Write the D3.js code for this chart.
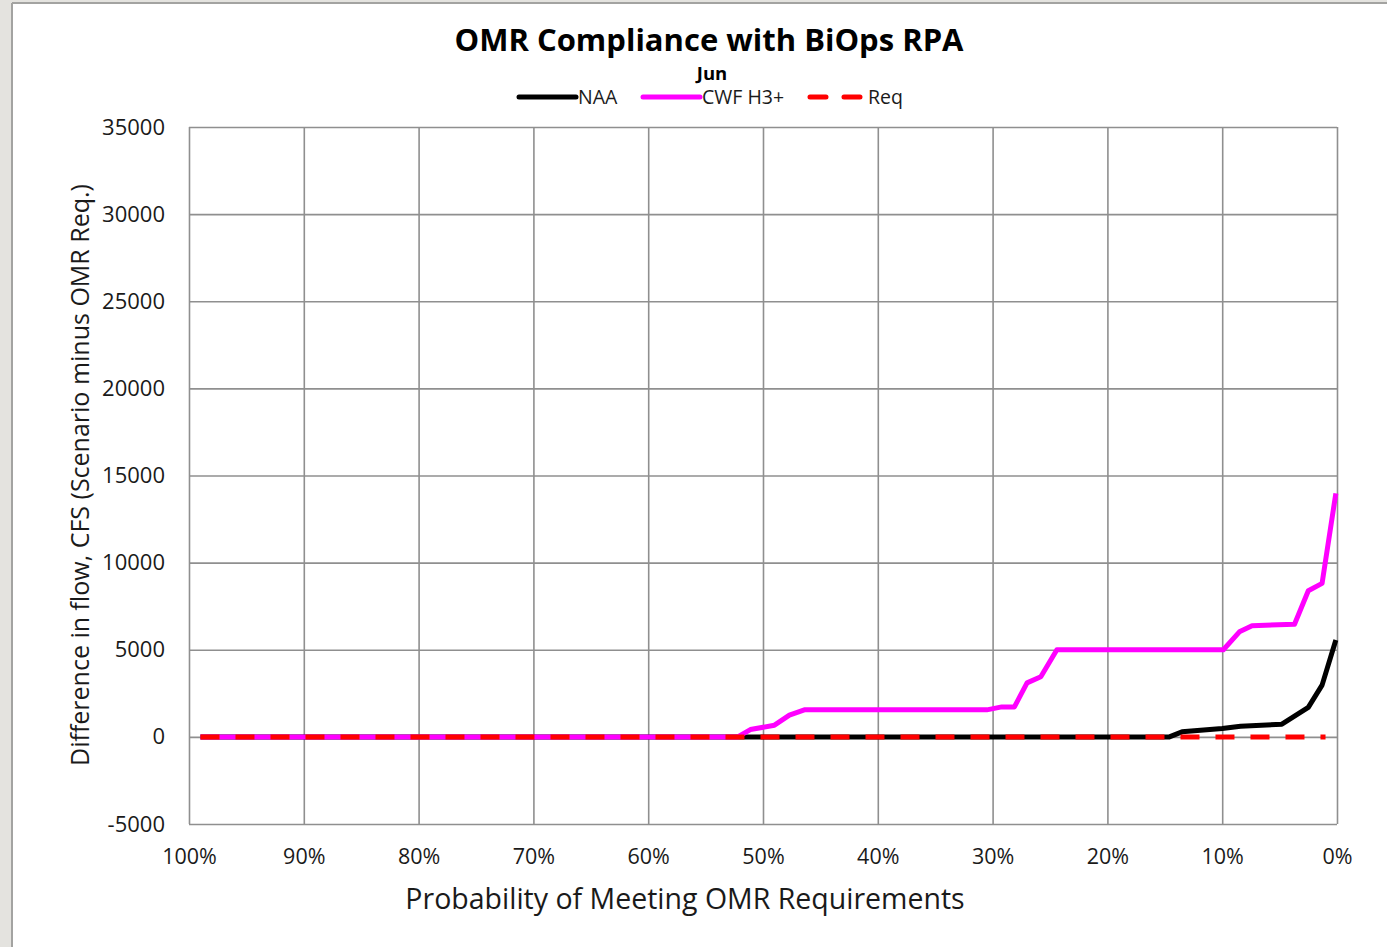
<!DOCTYPE html>
<html>
<head>
<meta charset="utf-8">
<script src="https://cdn.jsdelivr.net/npm/d3@7"></script>
<style>
  html, body { margin: 0; padding: 0; background: #e4e3df; }
  svg { display: block; font-family: "Open Sans", sans-serif; }
</style>
</head>
<body>
<div id="chart"></div>
<script>
// exceedance probability (%) and difference in flow (cfs)
var probNAA = [99, 14.6, 13.5, 10.0, 8.4, 4.8, 3.6, 2.5, 1.3, 0.1];
var valNAA  = [0, 0, 290, 480, 610, 730, 1230, 1690, 2970, 5560];

var probCWF = [99, 52.2, 51.1, 49.0, 47.7, 46.4, 30.5, 29.2, 28.1, 27.0, 25.8, 24.4, 9.9, 8.5, 7.4, 3.7, 2.5, 1.3, 0.1];
var valCWF  = [0, 0, 420, 670, 1245, 1550, 1550, 1720, 1720, 3100, 3450, 5000, 5000, 6030, 6380, 6460, 8390, 8810, 13980];

var probReq = [99, 1.0];
var valReq  = [0, 0];

var yTicks = [-5000, 0, 5000, 10000, 15000, 20000, 25000, 30000, 35000];
var xTicks = [100, 90, 80, 70, 60, 50, 40, 30, 20, 10, 0];

var seriesNames = ["NAA", "CWF H3+", "Req"];
var seriesColors = ["#000000", "#ff00ff", "#ff0000"];

function drawChart() {
    var W = 1387, H = 947;
    var margin = {top: 127, right: 50, bottom: 123, left: 189};
    var width = W - margin.left - margin.right;
    var height = H - margin.top - margin.bottom;

    var root = d3.select("#chart").append("svg")
        .attr("width", W)
        .attr("height", H);

    // page frame
    root.append("rect").attr("x", 12).attr("y", 3).attr("width", W - 12).attr("height", H - 3).attr("fill", "#ffffff");
    root.append("line").attr("x1", 12).attr("y1", 3).attr("x2", 12).attr("y2", H).attr("stroke", "#a3a3a1").attr("stroke-width", 2);
    root.append("line").attr("x1", 12).attr("y1", 3).attr("x2", W).attr("y2", 3).attr("stroke", "#a3a3a1").attr("stroke-width", 2);

    var svg = root.append("g")
        .attr("transform", "translate(" + margin.left + "," + margin.top + ")");

    var x = d3.scaleLinear().domain([100, 0]).range([0, width]);
    var y = d3.scaleLinear().domain([-5000, 35000]).range([height, 0]);

    // grid
    svg.append("g")
        .attr("class", "grid")
        .call(d3.axisLeft(y).tickValues(yTicks).tickSize(-width).tickFormat(""))
        .call(function(g) { g.select(".domain").remove(); })
        .selectAll("line")
        .attr("stroke", "#8f8f8f")
        .attr("stroke-width", 1.6);

    svg.append("g")
        .attr("class", "grid")
        .attr("transform", "translate(0," + height + ")")
        .call(d3.axisBottom(x).tickValues(xTicks).tickSize(-height).tickFormat(""))
        .call(function(g) { g.select(".domain").remove(); })
        .selectAll("line")
        .attr("stroke", "#8f8f8f")
        .attr("stroke-width", 1.6);

    // tick labels
    var yAxis = svg.append("g")
        .call(d3.axisLeft(y).tickValues(yTicks).tickSize(0).tickPadding(24).tickFormat(function(d) { return String(d); }));
    yAxis.select(".domain").remove();
    yAxis.selectAll("text")
        .style("font-family", "'Open Sans', sans-serif")
        .style("font-size", "22px")
        .attr("fill", "#1a1a1a");

    var xAxis = svg.append("g")
        .attr("transform", "translate(0," + height + ")")
        .call(d3.axisBottom(x).tickValues(xTicks).tickSize(0).tickPadding(25).tickFormat(function(d) { return d + "%"; }));
    xAxis.select(".domain").remove();
    xAxis.selectAll("text")
        .style("font-family", "'Open Sans', sans-serif")
        .style("font-size", "21.5px")
        .attr("fill", "#1a1a1a");

    // series
    var line = d3.line()
        .x(function(d) { return x(d[0]); })
        .y(function(d) { return y(d[1]); });

    var series = [
        d3.zip(probNAA, valNAA),
        d3.zip(probCWF, valCWF),
        d3.zip(probReq, valReq)
    ];

    series.forEach(function(s, i) {
        svg.append("path")
            .datum(s)
            .attr("fill", "none")
            .attr("stroke", seriesColors[i])
            .attr("stroke-width", 5)
            .attr("stroke-linejoin", "round")
            .attr("stroke-dasharray", i === 2 ? "19,16" : null)
            .attr("d", line);
    });

    // titles
    root.append("text")
        .attr("x", 709).attr("y", 51)
        .attr("text-anchor", "middle")
        .style("font-size", "31px")
        .style("font-weight", "700")
        .text("OMR Compliance with BiOps RPA");

    root.append("text")
        .attr("x", 712).attr("y", 80)
        .attr("text-anchor", "middle")
        .style("font-size", "18.5px")
        .style("font-weight", "700")
        .text("Jun");

    root.append("text")
        .attr("x", 685).attr("y", 909)
        .attr("text-anchor", "middle")
        .style("font-size", "28.5px")
        .attr("fill", "#1a1a1a")
        .text("Probability of Meeting OMR Requirements");

    root.append("text")
        .attr("transform", "translate(89,475) rotate(-90)")
        .attr("text-anchor", "middle")
        .style("font-size", "25px")
        .attr("fill", "#1a1a1a")
        .text("Difference in flow, CFS (Scenario minus OMR Req.)");

    // legend
    var legendX = [519, 643, 810];
    var legend = root.append("g");
    seriesNames.forEach(function(name, i) {
        var g = legend.append("g").attr("transform", "translate(" + legendX[i] + ",97)");
        g.append("line")
            .attr("x1", 0).attr("x2", i === 2 ? 52 : 57)
            .attr("y1", 0).attr("y2", 0)
            .attr("stroke", seriesColors[i])
            .attr("stroke-width", 5)
            .attr("stroke-linecap", "round")
            .attr("stroke-dasharray", i === 2 ? "16,18" : null);
        g.append("text")
            .attr("x", i === 2 ? 58 : 59).attr("y", 7)
            .style("font-size", "19.5px")
            .attr("fill", "#1a1a1a")
            .text(name);
    });
}

drawChart();
</script>
</body>
</html>
